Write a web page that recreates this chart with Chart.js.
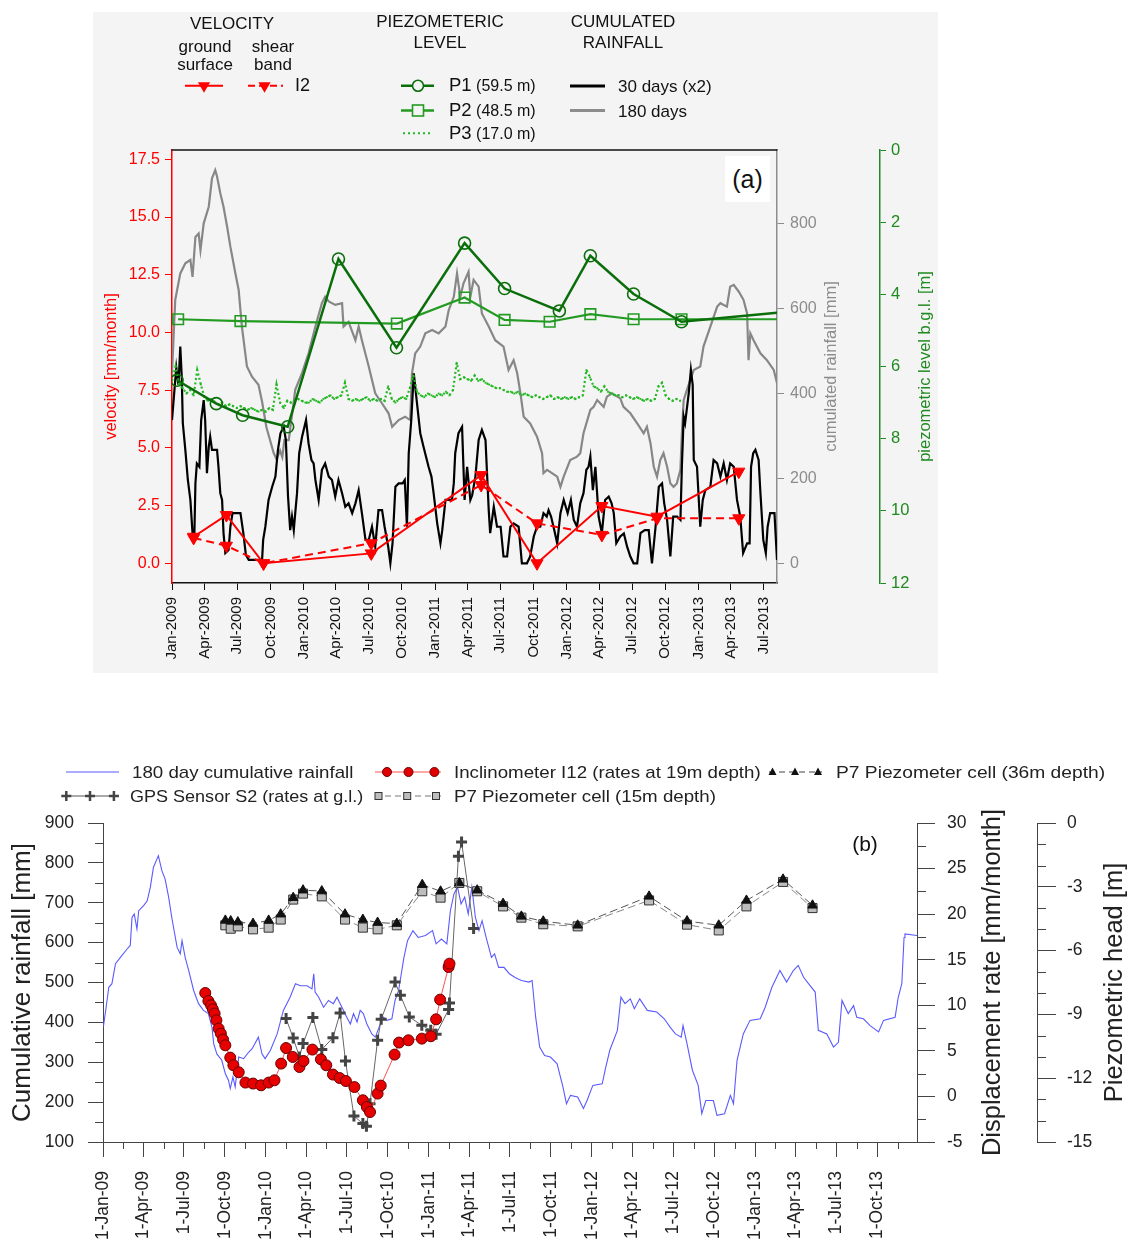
<!DOCTYPE html>
<html>
<head>
<meta charset="utf-8">
<title>Landslide monitoring: velocity, piezometric level and rainfall</title>
<script src="https://cdn.jsdelivr.net/npm/chart.js@4.4.1/dist/chart.umd.min.js"></script>
<style>
  html, body { margin: 0; padding: 0; background: #fff; }
  body { width: 1130px; height: 1243px; position: relative; overflow: hidden;
         font-family: "Liberation Sans", Arial, Helvetica, sans-serif; color: #111; }
  #panelA { position: absolute; left: 93px; top: 12px; width: 845px; height: 661px; background: #f4f4f4; z-index: 0; }
  canvas { position: absolute; left: 0; z-index: 1; }
  #chartA { top: 0; }
  #chartB { top: 700px; }
  .t { position: absolute; white-space: nowrap; line-height: 1; z-index: 3; }
  .c { transform: translate(-50%, -50%); text-align: center; }
  .l { transform: translateY(-50%); }
  .top { font-size: 17px; }
  .bl { font-size: 17px; color: #222; transform: translateY(-50%) scaleX(1.1); transform-origin: left center; }
  #legendSymbols { position: absolute; left: 0; top: 0; z-index: 3; }
  #tagA { position: absolute; left: 725px; top: 156px; width: 45px; height: 46px; background: #fff;
          font-size: 25px; line-height: 46px; text-align: center; z-index: 3; }
</style>
</head>
<body>
<div id="panelA"></div>
<canvas id="chartA" width="1130" height="680" style="width:1130px;height:680px"></canvas>
<canvas id="chartB" width="1130" height="543" style="width:1130px;height:543px"></canvas>

<!-- panel (a) legend -->
<div class="t c top" style="left:232px;top:23px">VELOCITY</div>
<div class="t c top" style="left:205px;top:55px;line-height:17.5px">ground<br>surface</div>
<div class="t c top" style="left:273px;top:55px;line-height:17.5px">shear<br>band</div>
<div class="t l" style="left:295px;top:85px;font-size:18px">I2</div>
<div class="t c top" style="left:440px;top:32.5px;line-height:21.6px">PIEZOMETERIC<br>LEVEL</div>
<div class="t c top" style="left:623px;top:32.5px;line-height:21.6px">CUMULATED<br>RAINFALL</div>
<div class="t l" style="left:449px;top:85px"><span style="font-size:18.5px">P1</span><span style="font-size:16px"> (59.5 m)</span></div>
<div class="t l" style="left:449px;top:110px"><span style="font-size:18.5px">P2</span><span style="font-size:16px"> (48.5 m)</span></div>
<div class="t l" style="left:449px;top:133px"><span style="font-size:18.5px">P3</span><span style="font-size:16px"> (17.0 m)</span></div>
<div class="t l top" style="left:618px;top:86px">30 days (x2)</div>
<div class="t l top" style="left:618px;top:110.5px">180 days</div>
<div id="tagA">(a)</div>

<!-- panel (b) legend -->
<div class="t bl" style="left:132px;top:772px">180 day cumulative rainfall</div>
<div class="t bl" style="left:454px;top:772px">Inclinometer I12 (rates at 19m depth)</div>
<div class="t bl" style="left:836px;top:772px;transform:translateY(-50%) scaleX(1.13)">P7 Piezometer cell (36m depth)</div>
<div class="t bl" style="left:130px;top:796px;transform:translateY(-50%) scaleX(1.06)">GPS Sensor S2 (rates at g.l.)</div>
<div class="t bl" style="left:454px;top:796px">P7 Piezometer cell (15m depth)</div>
<div class="t c" style="left:865px;top:843px;font-size:21px">(b)</div>

<svg id="legendSymbols" width="1130" height="1243" xmlns="http://www.w3.org/2000/svg">
  <!-- velocity -->
  <line x1="185" y1="85.7" x2="223" y2="85.7" stroke="#ff0000" stroke-width="2"/>
  <polygon points="204,92.7 197.9,82.2 210.1,82.2" fill="#ff0000"/>
  <line x1="248" y1="85.7" x2="283" y2="85.7" stroke="#ff0000" stroke-width="2" stroke-dasharray="7,4"/>
  <polygon points="264.5,92.7 258.4,82.2 270.6,82.2" fill="#ff0000"/>
  <!-- piezometers -->
  <line x1="401" y1="85.7" x2="434" y2="85.7" stroke="#0a6e0a" stroke-width="2.5"/>
  <circle cx="418" cy="85.7" r="5.5" fill="#f4f4f4" stroke="#0a6e0a" stroke-width="1.6"/>
  <line x1="401" y1="110.5" x2="434" y2="110.5" stroke="#239b23" stroke-width="2.5"/>
  <rect x="412.5" y="105" width="11" height="11" fill="#f4f4f4" stroke="#239b23" stroke-width="1.6"/>
  <line x1="403" y1="133.3" x2="432" y2="133.3" stroke="#22b822" stroke-width="2" stroke-dasharray="2,3"/>
  <!-- rainfall -->
  <line x1="570" y1="86" x2="605" y2="86" stroke="#000" stroke-width="3"/>
  <line x1="570" y1="110.5" x2="605" y2="110.5" stroke="#8c8c8c" stroke-width="3"/>
  <!-- panel (b) -->
  <line x1="66" y1="772" x2="119" y2="772" stroke="#5a5aff" stroke-width="1.2"/>
  <line x1="375" y1="772" x2="441" y2="772" stroke="#ff5050" stroke-width="1"/>
  <circle cx="387" cy="772" r="4.5" fill="#e00000" stroke="#700000" stroke-width="1"/>
  <circle cx="408.5" cy="772" r="4.5" fill="#e00000" stroke="#700000" stroke-width="1"/>
  <circle cx="434.4" cy="772" r="4.5" fill="#e00000" stroke="#700000" stroke-width="1"/>
  <line x1="769" y1="772" x2="822" y2="772" stroke="#444" stroke-width="1" stroke-dasharray="6,4"/>
  <polygon points="772.5,767.5 768.5,775 776.5,775" fill="#111"/>
  <polygon points="795,767.5 791,775 799,775" fill="#111"/>
  <polygon points="818,767.5 814,775 822,775" fill="#111"/>
  <line x1="63" y1="796" x2="119" y2="796" stroke="#555" stroke-width="1"/>
  <path d="M61.3,796 h10 M66.3,791 v10 M85,796 h10 M90,791 v10 M108.9,796 h10 M113.9,791 v10" stroke="#444" stroke-width="2.5"/>
  <line x1="375" y1="796" x2="441" y2="796" stroke="#777" stroke-width="1" stroke-dasharray="6,4"/>
  <rect x="375" y="792.5" width="7" height="7" fill="#bdbdbd" stroke="#333" stroke-width="1"/>
  <rect x="403.7" y="792.5" width="7" height="7" fill="#bdbdbd" stroke="#333" stroke-width="1"/>
  <rect x="432.5" y="792.5" width="7" height="7" fill="#bdbdbd" stroke="#333" stroke-width="1"/>
</svg>

<script>
// ---------- time axis (days counted from 1 Jan 2009) ----------
const MONTHS = ['Jan','Feb','Mar','Apr','May','Jun','Jul','Aug','Sep','Oct','Nov','Dec'];
const ORIGIN = Date.UTC(2009, 0, 1);
function labelToDay(label) {
  const p = label.split('-');
  let d = 1, m, y;
  if (p.length === 3) { d = +p[0]; m = MONTHS.indexOf(p[1]); y = 2000 + +p[2]; }
  else { m = MONTHS.indexOf(p[0]); y = +p[1]; }
  return (Date.UTC(y, m, d) - ORIGIN) / 86400000;
}
function quarterMidDay(label) {
  const start = labelToDay(label);
  const dt = new Date(ORIGIN + start * 86400000);
  const next = (Date.UTC(dt.getUTCFullYear(), dt.getUTCMonth() + 3, 1) - ORIGIN) / 86400000;
  return (start + next) / 2;
}

// ---------- panel (a) ----------
const topTickLabels = ['Jan-2009','Apr-2009','Jul-2009','Oct-2009','Jan-2010','Apr-2010','Jul-2010','Oct-2010',
  'Jan-2011','Apr-2011','Jul-2011','Oct-2011','Jan-2012','Apr-2012','Jul-2012','Oct-2012','Jan-2013','Apr-2013','Jul-2013'];
const rainTickValues = [0, 200, 400, 600, 800];

// survey dates and velocities (mm/month) from inclinometer I2
const velDays   = [60, 151, 254, 553, 858, 1013, 1193, 1346, 1573];
const velGround = [1.15, 2.09, 0.0, 0.43, 3.82, 0.0, 2.48, 2.02, 3.97];
const velShear  = [1.10, 0.76, 0.0, 0.87, 3.39, 1.73, 1.23, 1.95, 1.95];

// piezometric level below ground level (m)
const p1Days  = [14, 123, 196, 321, 462, 623, 812, 923, 1075, 1161, 1281, 1414, 1679];
const p1Depth = [6.38, 7.03, 7.35, 7.67, 3.02, 5.48, 2.58, 3.84, 4.46, 2.93, 3.99, 4.76, 4.51];
const p2Days  = [17, 190, 624, 812, 923, 1048, 1161, 1281, 1414, 1679];
const p2Depth = [4.69, 4.74, 4.81, 4.09, 4.71, 4.76, 4.55, 4.69, 4.69, 4.69];
// P3 logger, one reading every 10 days from 1 Jan 2009
const p3StepDays = 10;
const p3Depth = [
  6.4, 6.0, 6.5, 6.6, 6.75, 6.65, 6.8, 6.1, 6.5, 6.85,
  6.95, 6.9, 7.0, 7.05, 7.0, 7.1, 7.05, 7.1, 7.15, 7.1,
  7.15, 7.2, 7.15, 7.2, 7.25, 7.2, 7.25, 7.15, 7.2, 6.5,
  7.0, 7.15, 6.95, 7.0, 6.95, 6.9, 6.95, 7.0, 7.0, 6.9,
  6.95, 7.0, 6.9, 6.85, 6.8, 6.9, 6.85, 6.8, 6.45, 6.9,
  6.95, 6.9, 6.95, 6.9, 6.85, 6.95, 6.9, 6.95, 6.9, 6.95,
  6.55, 6.9, 7.0, 6.9, 6.85, 6.9, 6.6, 6.25, 6.7, 6.8,
  6.85, 6.75, 6.8, 6.85, 6.75, 6.8, 6.7, 6.8, 6.65, 5.9,
  6.35, 6.3, 6.35, 6.4, 6.25, 6.4, 6.35, 6.45, 6.5, 6.55,
  6.6, 6.6, 6.65, 6.7, 6.7, 6.75, 6.7, 6.8, 6.75, 6.8,
  6.85, 6.8, 6.85, 6.9, 6.85, 6.8, 6.9, 6.85, 6.9, 6.85,
  6.9, 6.85, 6.9, 6.85, 6.8, 6.1, 6.3, 6.55, 6.6, 6.7,
  6.55, 6.7, 6.75, 6.8, 6.8, 6.85, 6.8, 6.85, 6.9, 6.85,
  6.9, 6.95, 6.9, 6.95, 6.9, 6.55, 6.45, 6.8, 6.9, 6.95,
  6.9, 6.95
];

// 30-day cumulated rainfall, doubled (mm)
const rain30Days = [0,6,12,18,23,27,30,37,44,51,57,62,65,69,76,81,88,92,97,102,106,111,125,129,134,139,143,148,157,162,168,190,198,205,213,250,253,259,268,278,287,294,301,310,316,322,328,333,338,342,347,353,361,372,379,387,393,398,407,416,425,435,444,453,462,472,481,490,500,509,518,527,537,546,555,564,573,583,590,600,606,612,620,629,640,646,652,657,664,671,680,689,698,712,720,726,736,745,750,759,777,782,786,795,805,812,819,828,833,842,851,860,870,879,883,893,902,912,920,930,939,948,962,971,985,994,1004,1013,1022,1031,1040,1045,1052,1061,1069,1078,1087,1098,1107,1115,1124,1133,1142,1150,1156,1161,1168,1175,1184,1193,1202,1212,1220,1226,1233,1244,1254,1263,1272,1281,1291,1300,1312,1323,1332,1342,1351,1360,1366,1374,1383,1391,1402,1411,1415,1420,1424,1434,1440,1445,1448,1457,1466,1473,1480,1494,1503,1513,1522,1531,1540,1549,1559,1568,1577,1585,1596,1603,1607,1613,1619,1628,1633,1641,1648,1653,1660,1672,1679];
const rain30Mm   = [337,400,460,420,510,440,330,267,196,149,71,63,188,235,227,337,384,337,212,274,298,267,267,227,165,149,71,24,31,86,118,118,71,20,8,8,55,86,149,180,204,267,306,321,290,157,78,110,78,118,165,259,298,337,282,243,235,196,149,220,235,204,196,157,196,165,133,141,118,141,172,118,55,55,86,39,125,125,86,39,0,47,180,188,188,196,86,259,337,447,376,306,274,227,204,165,94,47,78,149,149,188,259,306,321,149,227,149,160,204,290,314,290,125,71,133,86,86,16,16,86,94,86,0,0,16,63,86,86,118,110,125,110,78,47,118,149,118,149,102,86,141,165,220,227,251,172,227,110,71,149,157,141,118,47,63,70,39,16,0,0,71,78,78,0,86,180,188,141,102,16,110,110,102,227,345,330,400,455,420,243,227,86,149,172,180,243,235,204,235,196,235,227,149,110,24,47,47,227,259,267,243,165,55,24,86,118,118,8];

// 180-day cumulated rainfall (mm)
const cum180Days = [0,4,9,23,37,51,57,65,74,79,88,102,111,120,125,134,143,153,162,176,185,194,208,222,240,250,262,272,282,290,300,306,312,324,342,361,379,398,416,425,435,453,472,476,490,509,518,527,546,564,583,601,611,629,647,661,666,675,689,703,722,740,759,768,782,791,800,809,823,828,837,851,860,879,897,920,934,948,958,967,976,994,1013,1027,1031,1041,1069,1078,1087,1105,1124,1133,1142,1161,1170,1180,1198,1207,1221,1244,1253,1272,1291,1309,1318,1328,1337,1346,1355,1364,1374,1383,1392,1401,1411,1415,1420,1429,1448,1466,1475,1494,1513,1522,1540,1549,1559,1573,1586,1596,1600,1605,1614,1633,1651,1670,1679];
const cum180Mm   = [447,525,620,682,706,714,674,768,776,737,800,839,906,925,910,871,839,792,745,682,643,557,463,439,420,380,320,290,260,245,265,250,290,290,408,448,494,557,612,627,616,608,612,557,568,525,557,525,463,400,376,353,321,337,345,337,447,494,510,541,549,541,557,596,627,682,627,659,686,627,667,651,588,557,525,510,455,478,447,400,345,329,298,259,212,220,204,180,204,243,251,259,306,361,368,384,368,392,400,388,368,353,329,306,321,282,227,204,243,259,227,188,180,188,220,306,384,408,455,463,510,557,604,612,604,651,655,639,620,588,478,541,525,494,478,455,424];

// ---------- panel (b) ----------
const bottomTickLabels = ['1-Jan-09','1-Apr-09','1-Jul-09','1-Oct-09','1-Jan-10','1-Apr-10','1-Jul-10','1-Oct-10',
  '1-Jan-11','1-Apr-11','1-Jul-11','1-Oct-11','1-Jan-12','1-Apr-12','1-Jul-12','1-Oct-12','1-Jan-13','1-Apr-13','1-Jul-13','1-Oct-13'];

// 180 day cumulative rainfall (mm)
const b180Days = [1,7,13,20,28,39,54,61,65,70,76,80,91,99,106,113,121,124,132,139,147,154,166,173,177,184,192,203,214,225,236,244,248,255,266,274,281,285,291,296,304,315,326,334,348,356,363,375,390,404,419,431,442,457,468,472,475,483,494,505,516,524,535,546,554,561,569,576,583,591,602,610,621,628,636,647,654,662,674,682,694,706,722,738,746,758,770,778,786,794,802,810,818,826,834,842,849,858,870,877,886,898,910,922,937,954,961,969,978,989,1002,1017,1030,1038,1047,1063,1076,1084,1097,1118,1126,1135,1152,1160,1169,1181,1190,1202,1219,1240,1257,1270,1282,1295,1299,1308,1320,1333,1341,1350,1367,1375,1392,1405,1412,1420,1434,1449,1472,1483,1498,1516,1531,1546,1557,1569,1580,1595,1602,1621,1636,1647,1655,1669,1681,1688,1703,1718,1737,1748,1774,1781,1789,1794,1796,1823];
const b180Mm   = [390,438,488,497,547,563,584,593,663,672,634,680,693,705,739,789,810,818,780,760,714,663,588,572,605,563,530,480,447,430,422,388,346,321,305,271,255,234,263,238,313,309,325,334,363,321,309,330,371,430,463,497,492,492,484,522,476,463,438,455,447,463,438,413,396,422,401,430,422,396,371,363,396,413,405,409,455,480,563,605,630,613,618,630,597,609,597,680,722,739,697,714,672,739,663,630,655,613,563,572,538,538,522,513,505,501,505,413,338,317,313,296,238,196,217,213,184,204,242,246,288,330,380,463,447,459,434,459,430,426,409,388,371,363,392,346,280,242,171,204,204,167,171,217,196,305,371,405,409,438,488,530,501,530,543,513,497,476,380,371,338,350,455,422,442,413,409,392,376,405,413,463,497,613,622,618];

// inclinometer I12, displacement rate at 19 m depth (mm/month)
const i12Days = [229,236,242,246,250,254,259,264,269,274,285,292,304,319,336,354,371,384,399,410,425,440,449,469,488,500,515,530,544,563,582,591,598,615,622,653,663,684,714,734,746,755,774,776];
const i12Rate = [11.35,10.47,10.0,9.56,9.09,8.35,7.44,6.89,6.24,5.61,4.26,3.42,2.65,1.52,1.41,1.22,1.52,1.77,3.6,5.31,4.33,3.23,3.89,5.14,4.07,3.42,2.4,2.02,1.69,1.03,-0.42,-1.16,-1.71,0.31,1.19,4.59,5.91,6.16,6.34,6.6,8.46,10.62,14.2,14.57];

// GPS sensor S2, displacement rate at ground level (mm/month)
const gpsDays = [410,426,440,448,470,490,515,531,543,562,582,590,598,615,623,654,666,686,714,734,746,774,776,796,803,830];
const gpsRate = [8.54,6.41,4.33,5.8,8.65,5.14,6.45,9.15,3.89,-2.15,-2.98,-3.28,-0.79,6.16,8.46,12.55,11.1,8.72,7.8,7.26,6.82,9.53,10.25,26.35,27.92,18.42];

// P7 piezometer cells, piezometric head (m)
const p7Days   = [274,286,302,336,371,398,426,448,490,542,582,615,658,715,756,798,838,896,937,986,1063,1223,1308,1379,1441,1523,1589];
const p7Head36 = [-4.58,-4.61,-4.66,-4.73,-4.58,-4.29,-3.51,-3.16,-3.20,-4.29,-4.54,-4.68,-4.73,-2.90,-3.21,-2.82,-3.16,-3.79,-4.39,-4.62,-4.81,-3.45,-4.61,-4.81,-3.64,-2.65,-3.87];
const p7Head15 = [-4.81,-4.97,-4.86,-5.00,-4.92,-4.54,-3.60,-3.32,-3.45,-4.54,-4.92,-5.00,-4.81,-3.21,-3.51,-2.82,-3.21,-3.92,-4.45,-4.76,-4.86,-3.64,-4.78,-5.05,-3.92,-2.77,-4.00];

// ---------- helpers ----------
const FONT = "'Liberation Sans', Arial, Helvetica, sans-serif";
Chart.defaults.font.family = FONT;
const pts = (xs, ys) => xs.map((x, i) => ({ x, y: ys[i] }));
const lastHidden = r => (ctx) => ctx.dataIndex === ctx.dataset.data.length - 1 ? 0 : r;

// axis decorations Chart.js does not provide: frame top, minor ticks, upward right-hand titles
const frameExtras = {
  id: 'frameExtras',
  afterDraw(chart, _args, opts) {
    const { ctx, chartArea } = chart;
    ctx.save();
    if (opts.topLine) {
      ctx.strokeStyle = opts.topLine.color;
      ctx.lineWidth = opts.topLine.width;
      ctx.beginPath();
      ctx.moveTo(chartArea.left - 0.5, chartArea.top);
      ctx.lineTo(chartArea.right + 0.5, chartArea.top);
      ctx.stroke();
    }
    for (const m of (opts.minorTicks || [])) {
      const s = chart.scales[m.axis];
      ctx.strokeStyle = m.color;
      ctx.lineWidth = 1;
      ctx.beginPath();
      for (const v of m.values) {
        const p = Math.round(s.getPixelForValue(v)) + 0.5;
        if (s.isHorizontal()) { ctx.moveTo(p, s.top); ctx.lineTo(p, s.top + m.length); }
        else if (s.position === 'left') { ctx.moveTo(s.right, p); ctx.lineTo(s.right - m.length, p); }
        else { ctx.moveTo(s.left, p); ctx.lineTo(s.left + m.length, p); }
      }
      ctx.stroke();
    }
    for (const t of (opts.sideTitles || [])) {
      ctx.save();
      ctx.font = t.font;
      ctx.fillStyle = t.color;
      ctx.textAlign = 'center';
      ctx.textBaseline = 'middle';
      ctx.translate(t.x, (chartArea.top + chartArea.bottom) / 2);
      ctx.rotate(-Math.PI / 2);
      ctx.fillText(t.text, 0, 0);
      ctx.restore();
    }
    ctx.restore();
  }
};

// ---------- chart (a) ----------
const RED = '#ff0000', GREY = '#8c8c8c', GREEN_AX = '#1f8a1f';
const P1C = '#0a6e0a', P2C = '#239b23', P3C = '#22b822';

new Chart(document.getElementById('chartA'), {
  type: 'line',
  data: {
    datasets: [
      { label: 'ground surface', data: pts(velDays, velGround), yAxisID: 'yV',
        borderColor: RED, backgroundColor: RED, borderWidth: 2,
        pointStyle: 'triangle', pointRotation: 180, pointRadius: 7, pointBorderWidth: 1 },
      { label: 'shear band', data: pts(velDays, velShear), yAxisID: 'yV',
        borderColor: RED, backgroundColor: RED, borderWidth: 2, borderDash: [8, 5],
        pointStyle: 'triangle', pointRotation: 180, pointRadius: 7, pointBorderWidth: 1 },
      { label: 'P1 (59.5 m)', data: pts(p1Days, p1Depth), yAxisID: 'yP',
        borderColor: P1C, backgroundColor: 'rgba(0,0,0,0)', borderWidth: 2.5,
        pointStyle: 'circle', pointRadius: lastHidden(6), pointBorderWidth: 1.6, pointBorderColor: P1C },
      { label: 'P2 (48.5 m)', data: pts(p2Days, p2Depth), yAxisID: 'yP',
        borderColor: P2C, backgroundColor: 'rgba(0,0,0,0)', borderWidth: 2.2,
        pointStyle: 'rect', pointRadius: lastHidden(7.5), pointBorderWidth: 1.6, pointBorderColor: P2C },
      { label: 'P3 (17.0 m)', data: p3Depth.map((y, i) => ({ x: i * p3StepDays, y })), yAxisID: 'yP',
        borderColor: P3C, backgroundColor: P3C, borderWidth: 2.2, borderDash: [2, 2.5],
        pointStyle: 'rect', pointRadius: 1.3, pointBorderWidth: 0 },
      { label: '30 days (x2)', data: pts(rain30Days, rain30Mm), yAxisID: 'yR',
        borderColor: '#000', borderWidth: 2.2, pointRadius: 0 },
      { label: '180 days', data: pts(cum180Days, cum180Mm), yAxisID: 'yR',
        borderColor: '#878787', borderWidth: 2.2, pointRadius: 0 }
    ]
  },
  options: {
    responsive: false, animation: false, devicePixelRatio: 1,
    layout: { padding: { left: 92, right: 180, top: 150, bottom: 7 } },
    plugins: {
      legend: { display: false }, tooltip: { enabled: false },
      frameExtras: {
        topLine: { color: '#111', width: 1.5 },
        sideTitles: [
          { text: 'cumulated rainfall [mm]', x: 831, color: GREY, font: `16.5px ${FONT}` },
          { text: 'piezometric level b.g.l. [m]', x: 925, color: GREEN_AX, font: `16.5px ${FONT}` }
        ]
      }
    },
    scales: {
      x: {
        type: 'linear', position: 'bottom', min: 0, max: 1679,
        afterBuildTicks: s => { s.ticks = topTickLabels.map(l => ({ value: labelToDay(l) })); },
        afterFit: s => { s.height = 90; },
        ticks: { autoSkip: false, minRotation: 90, maxRotation: 90, padding: 7, color: '#111',
                 font: { size: 15 }, callback: (v, i) => topTickLabels[i] },
        grid: { drawOnChartArea: false, tickLength: 7, color: '#111' },
        border: { color: '#111', width: 1.5 }
      },
      yV: {
        type: 'linear', position: 'left', min: -0.853, max: 17.903,
        afterFit: s => { s.width = 80; },
        ticks: { stepSize: 2.5, includeBounds: false, padding: 5, color: RED, font: { size: 16 },
                 callback: v => v.toFixed(1) },
        grid: { drawOnChartArea: false, tickLength: 7, color: RED },
        border: { color: RED, width: 1.5 },
        title: { display: true, text: 'velocity [mm/month]', color: RED, font: { size: 16.5 }, padding: { top: 10 } }
      },
      yR: {
        type: 'linear', position: 'right', weight: 0, min: -46.4, max: 972.5,
        afterBuildTicks: s => { s.ticks = rainTickValues.map(v => ({ value: v })); },
        afterFit: s => { s.width = 103; },
        ticks: { padding: 6, color: GREY, font: { size: 16 }, callback: v => String(v) },
        grid: { drawOnChartArea: false, tickLength: 7, color: GREY },
        border: { color: GREY, width: 1.5 }
      },
      yP: {
        type: 'linear', position: 'right', weight: 1, min: 0, max: 12, reverse: true,
        afterFit: s => { s.width = 70; },
        ticks: { stepSize: 2, padding: 5, color: GREEN_AX, font: { size: 16.5 } },
        grid: { drawOnChartArea: false, tickLength: 6, color: GREEN_AX },
        border: { color: GREEN_AX, width: 1.5 }
      }
    }
  },
  plugins: [frameExtras]
});

// ---------- chart (b) ----------
const AX = '#444', TXT = '#222';
const minorX = bottomTickLabels.map(quarterMidDay);
const minorRain = [150, 250, 350, 450, 550, 650, 750, 850];
const minorRate = [-2.5, 2.5, 7.5, 12.5, 17.5, 22.5, 27.5];
const minorHead = [-1, -2, -4, -5, -7, -8, -10, -11, -13, -14];

new Chart(document.getElementById('chartB'), {
  type: 'line',
  data: {
    datasets: [
      { label: 'Inclinometer I12 (rates at 19m depth)', data: pts(i12Days, i12Rate), yAxisID: 'yD',
        borderColor: '#ff5050', borderWidth: 1, backgroundColor: '#e60000',
        pointStyle: 'circle', pointRadius: 5.5, pointBorderColor: '#6a0000', pointBorderWidth: 1 },
      { label: 'GPS Sensor S2 (rates at g.l.)', data: pts(gpsDays, gpsRate), yAxisID: 'yD',
        borderColor: '#666', borderWidth: 1, backgroundColor: '#444',
        pointStyle: 'cross', pointRadius: 5.5, pointBorderColor: '#444', pointBorderWidth: 3 },
      { label: 'P7 Piezometer cell (36m depth)', data: pts(p7Days, p7Head36), yAxisID: 'yH',
        borderColor: '#555', borderWidth: 1, borderDash: [8, 4], backgroundColor: '#111',
        pointStyle: 'triangle', pointRadius: 5.5, pointBorderColor: '#111', pointBorderWidth: 1 },
      { label: 'P7 Piezometer cell (15m depth)', data: pts(p7Days, p7Head15), yAxisID: 'yH',
        borderColor: '#888', borderWidth: 1, borderDash: [8, 4], backgroundColor: '#bdbdbd',
        pointStyle: 'rect', pointRadius: 6.4, pointBorderColor: '#333', pointBorderWidth: 1 },
      { label: '180 day cumulative rainfall', data: pts(b180Days, b180Mm), yAxisID: 'yRain',
        borderColor: '#5a5aff', borderWidth: 1.1, pointRadius: 0 }
    ]
  },
  options: {
    responsive: false, animation: false, devicePixelRatio: 1,
    layout: { padding: { left: 3, right: 13, top: 123, bottom: 0 } },
    plugins: {
      legend: { display: false }, tooltip: { enabled: false },
      frameExtras: {
        minorTicks: [
          { axis: 'x', values: minorX, length: 7, color: AX },
          { axis: 'yRain', values: minorRain, length: 8, color: AX },
          { axis: 'yD', values: minorRate, length: 9, color: AX },
          { axis: 'yH', values: minorHead, length: 9, color: AX }
        ],
        sideTitles: [
          { text: 'Displacement rate [mm/month]', x: 993, color: TXT, font: `25.5px ${FONT}` },
          { text: 'Piezometric head [m]', x: 1115, color: TXT, font: `25.5px ${FONT}` }
        ]
      }
    },
    scales: {
      x: {
        type: 'linear', position: 'bottom', min: 0, max: 1823,
        afterBuildTicks: s => { s.ticks = bottomTickLabels.map(l => ({ value: labelToDay(l) })); },
        afterFit: s => { s.height = 101; },
        ticks: { autoSkip: false, minRotation: 90, maxRotation: 90, padding: 14, color: TXT,
                 font: { size: 17.5 }, callback: (v, i) => bottomTickLabels[i] },
        grid: { drawOnChartArea: false, tickLength: 15, color: AX },
        border: { color: AX, width: 1 }
      },
      yRain: {
        type: 'linear', position: 'left', min: 100, max: 900,
        afterFit: s => { s.width = 100; },
        ticks: { stepSize: 100, padding: 14, color: TXT, font: { size: 17.5 } },
        grid: { drawOnChartArea: false, tickLength: 15, color: AX },
        border: { color: AX, width: 1 },
        title: { display: true, text: 'Cumulative rainfall [mm]', color: TXT, font: { size: 26 }, padding: { top: 4 } }
      },
      yD: {
        type: 'linear', position: 'right', weight: 0, min: -5, max: 30,
        afterFit: s => { s.width = 120; },
        ticks: { stepSize: 5, padding: 12, color: TXT, font: { size: 17.5 } },
        grid: { drawOnChartArea: false, tickLength: 18, color: AX },
        border: { color: AX, width: 1 }
      },
      yH: {
        type: 'linear', position: 'right', weight: 1, min: -15, max: 0,
        afterFit: s => { s.width = 80; },
        ticks: { stepSize: 3, padding: 11, color: TXT, font: { size: 17.5 } },
        grid: { drawOnChartArea: false, tickLength: 19, color: AX },
        border: { color: AX, width: 1 }
      }
    }
  },
  plugins: [frameExtras]
});
</script>
</body>
</html>
